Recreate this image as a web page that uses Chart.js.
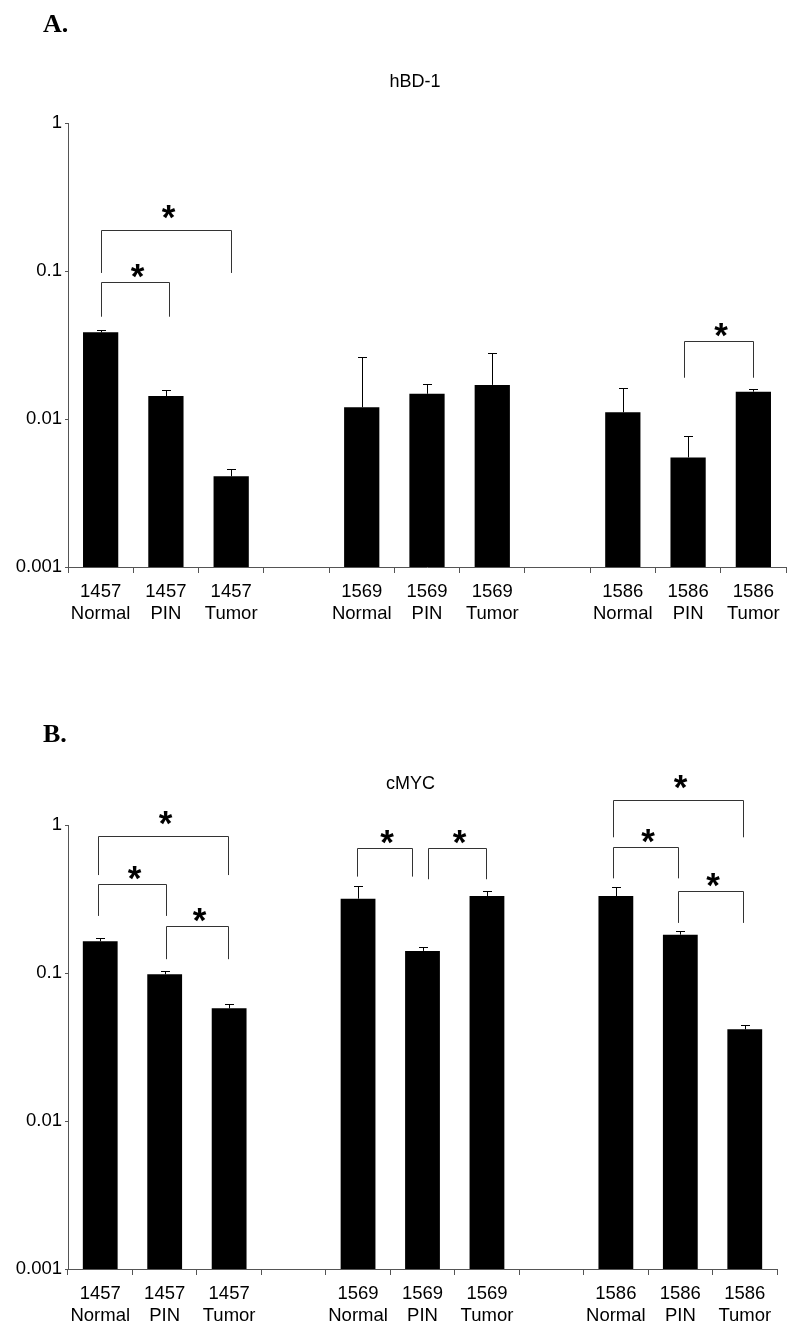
<!DOCTYPE html>
<html>
<head>
<meta charset="utf-8">
<script src="https://cdn.jsdelivr.net/npm/chart.js@4.4.1/dist/chart.umd.min.js"></script>
<style>
body { margin: 0; background: #fff; }
.panel { position: relative; width: 800px; }
canvas { display: block; }
</style>
</head>
<body>
<div class="panel"><canvas id="chartA" width="800" height="667"></canvas></div>
<div class="panel"><canvas id="chartB" width="800" height="668"></canvas></div>
<script>
// Datos (null = hueco entre grupos)
const samples = ['1457', '1569', '1586'];
const tissues = ['Normal', 'PIN', 'Tumor'];
const yTicks = [0.001, 0.01, 0.1, 1];

const hbdValues = [0.0385, 0.0143, 0.0041, null, 0.0120, 0.0148, 0.0170, null, 0.0111, 0.0055, 0.0153];
const hbdErrors = [0.0397, 0.0156, 0.0046, null, 0.0261, 0.0172, 0.0279, null, 0.0161, 0.0077, 0.0160];
const mycValues = [0.164, 0.098, 0.0577, null, 0.318, 0.141, 0.331, null, 0.331, 0.1815, 0.0416];
const mycErrors = [0.1715, 0.103, 0.0618, null, 0.385, 0.150, 0.358, null, 0.379, 0.193, 0.0445];

// corchetes de significancia: [desde, hasta, nivel, fin de las patas]
const hbdBrackets = [
    [0, 2, 0.189, 0.097],
    [0, 1.05, 0.0843, 0.0491],
    [8.93, 10, 0.0337, 0.019]
];
const mycBrackets = [
    [-0.04, 1.98, 0.843, 0.459],
    [-0.04, 1.02, 0.397, 0.243],
    [1.02, 1.98, 0.208, 0.124],
    [3.98, 4.84, 0.695, 0.448],
    [5.08, 5.98, 0.703, 0.43],
    [7.96, 9.97, 1.48, 0.826],
    [7.96, 8.96, 0.71, 0.436],
    [8.97, 9.97, 0.358, 0.218]
];

// Etiquetas con hueco entre muestras
const labels = [];
samples.forEach((s, i) => {
    if (i > 0) labels.push('');
    tissues.forEach(t => labels.push([s, t]));
});

const FONT = '"Liberation Sans", Arial, sans-serif';

// Plugin: barras de error, corchetes, asteriscos y títulos
const extras = {
    id: 'extras',
    afterDatasetsDraw(chart, args, opts) {
        const ctx = chart.ctx;
        const x = chart.scales.x, y = chart.scales.y;
        ctx.save();
        ctx.lineWidth = 1;
        ctx.strokeStyle = '#000';
        opts.errors.forEach((e, i) => {
            if (e == null) return;
            const px = Math.round(x.getPixelForValue(i)) + 0.5;
            const top = Math.round(y.getPixelForValue(e)) + 0.5;
            const base = y.getPixelForValue(opts.values[i]);
            ctx.beginPath();
            ctx.moveTo(px, base);
            ctx.lineTo(px, top);
            ctx.moveTo(px - 4.5, top);
            ctx.lineTo(px + 4.5, top);
            ctx.stroke();
        });

        ctx.strokeStyle = '#333';
        ctx.fillStyle = '#000';
        ctx.font = 'bold 35px ' + FONT;
        const m = ctx.measureText('*');
        const shift = (m.actualBoundingBoxAscent - m.actualBoundingBoxDescent) / 2;
        ctx.textAlign = 'center';
        ctx.textBaseline = 'alphabetic';
        opts.brackets.forEach(([a, b, lvl, end]) => {
            const x1 = Math.round(x.getPixelForValue(a)) + 0.5;
            const x2 = Math.round(x.getPixelForValue(b)) + 0.5;
            const yt = Math.round(y.getPixelForValue(lvl)) + 0.5;
            const yb = y.getPixelForValue(end);
            ctx.beginPath();
            ctx.moveTo(x1, yb);
            ctx.lineTo(x1, yt);
            ctx.lineTo(x2, yt);
            ctx.lineTo(x2, yb);
            ctx.stroke();
            const gap = (b - a) > 1.5 ? 19 : 12; // los corchetes anchos llevan el asterisco más alto
            ctx.fillText('*', (x1 + x2) / 2 + 2, yt - gap + shift);
        });

        // título y letra del panel
        const area = chart.chartArea;
        ctx.font = '18px ' + FONT;
        ctx.textBaseline = 'middle';
        ctx.fillText(opts.title, (area.left + area.right) / 2 - 12, area.top - 41);
        ctx.font = 'bold 26px "Liberation Serif", "Times New Roman", serif';
        ctx.textAlign = 'left';
        ctx.textBaseline = 'alphabetic';
        ctx.fillText(opts.letter, 43, opts.letterY);
        ctx.restore();
    }
};

const makeChart = (id, values, errors, brackets, title, letter, letterY, padding) => {
    const ctx = document.getElementById(id).getContext('2d');
    return new Chart(ctx, {
        type: 'bar',
        data: {
            labels: labels,
            datasets: [{
                data: values,
                backgroundColor: '#000',
                borderWidth: 0,
                barPercentage: 0.54,
                categoryPercentage: 1
            }]
        },
        options: {
            responsive: false,
            animation: false,
            layout: { padding: padding },
            plugins: {
                legend: { display: false },
                tooltip: { enabled: false },
                extras: { values, errors, brackets, title, letter, letterY }
            },
            scales: {
                x: {
                    grid: { drawOnChartArea: false, tickLength: 6, color: '#555', offset: true },
                    border: { color: '#555', width: 1 },
                    ticks: {
                        color: '#000',
                        font: { family: FONT, size: 18.5, lineHeight: 1.2 },
                        padding: 8,
                        maxRotation: 0,
                        autoSkip: false
                    },
                    afterFit: s => { s.height = 60; }
                },
                y: {
                    type: 'logarithmic',
                    min: 0.001,
                    max: 1,
                    afterBuildTicks: s => { s.ticks = yTicks.map(v => ({ value: v })); },
                    afterFit: s => { s.width = 68; },
                    grid: { drawOnChartArea: false, tickLength: 3, color: '#555' },
                    border: { color: '#555', width: 1 },
                    ticks: {
                        color: '#000',
                        font: { family: FONT, size: 18.5 },
                        padding: 3,
                        callback: v => String(v)
                    }
                }
            }
        },
        plugins: [extras]
    });
};

makeChart('chartA', hbdValues, hbdErrors, hbdBrackets, 'hBD-1', 'A.', 32,
    { left: 0, top: 123, right: 14, bottom: 40 });
makeChart('chartB', mycValues, mycErrors, mycBrackets, 'cMYC', 'B.', 75,
    { left: 0, top: 158, right: 23, bottom: 6 });
</script>
</body>
</html>
